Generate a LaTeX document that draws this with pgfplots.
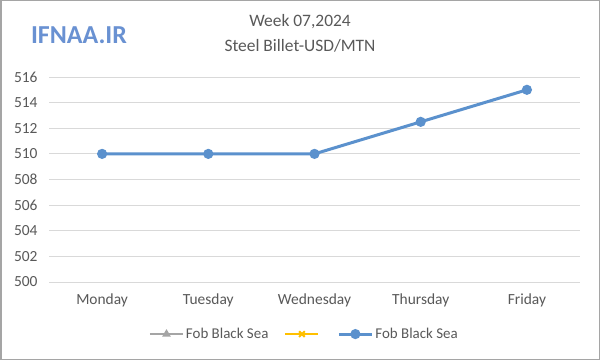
\documentclass[border=0pt]{standalone}
\usepackage{pgfplots}
\pgfplotsset{compat=1.18}
\usepackage{fontspec}
\setmainfont{Carlito}
\definecolor{txt}{RGB}{89,89,89}
\definecolor{gridc}{RGB}{217,217,217}
\definecolor{ser}{RGB}{91,145,205}
\definecolor{logo}{RGB}{105,145,210}
\definecolor{gry}{RGB}{165,165,165}
\definecolor{yel}{RGB}{255,192,0}
\begin{document}
\begin{tikzpicture}[x=1bp,y=1bp]
\fill[white] (0,0) rectangle (600,360);
\draw[line width=1.5bp,gry] (0.75,0.75) rectangle (599.25,359.25);
\node[font=\fontsize{17.5}{20}\selectfont,text=txt] at (300,338) {Week 07,2024};
\node[font=\fontsize{17.5}{20}\selectfont,text=txt] at (300,314) {Steel Billet-USD/MTN};
\node[font=\fontsize{26}{30}\selectfont\bfseries,text=logo] at (79,325) {IFNAA.IR};
\begin{axis}[
  at={(49bp,78bp)}, anchor=south west,
  scale only axis, width=531bp, height=205bp,
  xmin=-0.5, xmax=4.5, ymin=500, ymax=516,
  xtick={0,1,2,3,4},
  xticklabels={Monday,Tuesday,Wednesday,Thursday,Friday},
  ytick={500,502,...,516},
  axis line style={draw=none},
  major tick length=0pt,
  xmajorgrids=false,
  ymajorgrids=true, major grid style={draw=gridc, line width=0.8bp},
  tick label style={text=txt, font=\fontsize{15.5}{18}\selectfont},
  /pgf/number format/assume math mode=true,
  yticklabel style={xshift=-8bp},
  xticklabel style={yshift=-8bp},
  legend columns=3,
  legend style={draw=none, fill=none, at={(0.481,-0.254)}, anchor=center,
    font=\fontsize{15}{18}\selectfont, text=txt,
    /tikz/every even column/.append style={column sep=14bp}},
  legend image code/.code={\draw[#1] (0bp,0bp) -- (33bp,0bp); \draw[#1,only marks] plot coordinates {(16.5bp,0bp)};},
]
\addlegendimage{gry, line width=2bp, mark=triangle*, mark size=3bp}
\addlegendentry{Fob Black Sea}
\addlegendimage{yel, line width=2bp, mark=x, mark size=4bp}
\addlegendentry{}
\addplot[ser, line width=3bp, mark=*, mark size=3.5bp] coordinates {
 (0,510) (1,510) (2,510) (3,512.5) (4,515)
};
\addlegendentry{Fob Black Sea}
\end{axis}
\end{tikzpicture}
\end{document}
